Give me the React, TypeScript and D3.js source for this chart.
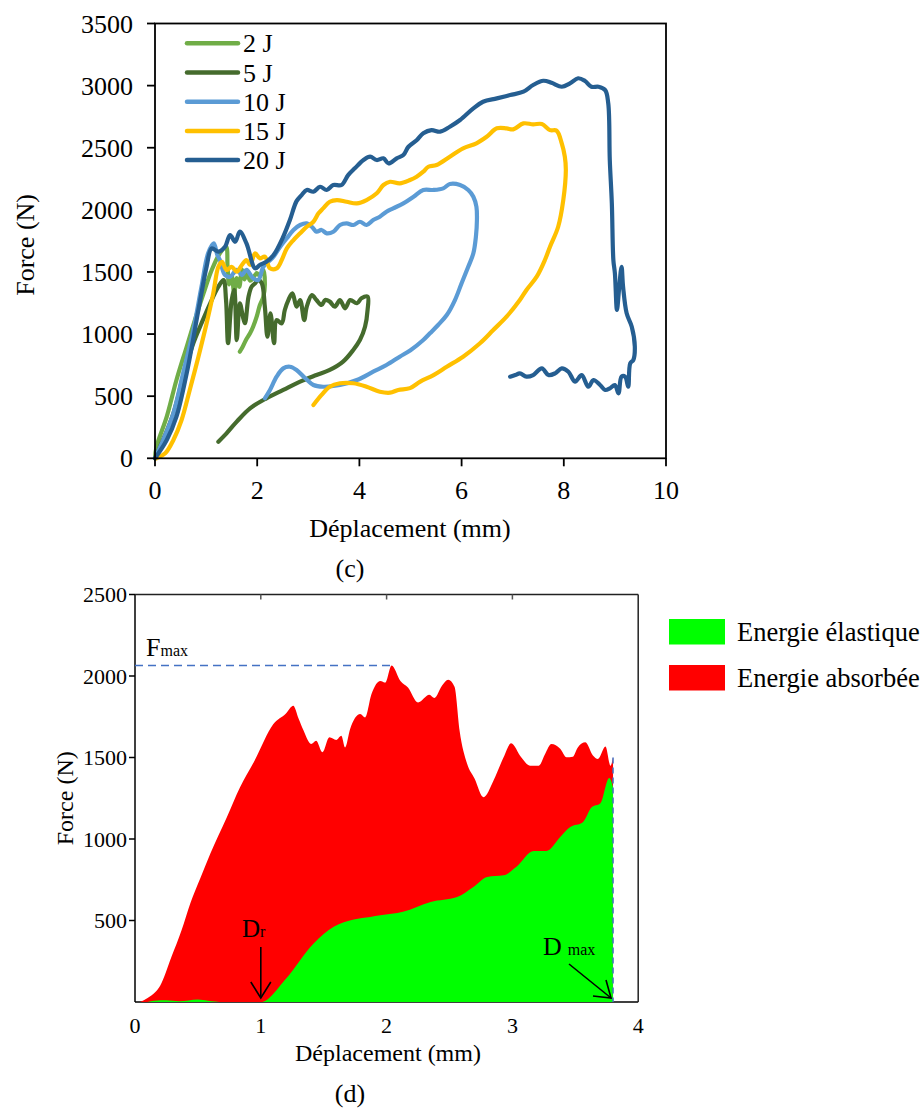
import React from "react";
import * as d3 from "d3";

// ---------- Chart (c) data: [displacement mm, force N] ----------
const seriesNames = ["2 J", "5 J", "10 J", "15 J", "20 J"];
const seriesColors = ["#70AD47", "#456B2D", "#5B9BD5", "#FFC000", "#255E91"];

const j2: [number, number][] = [
  [0, 0], [0.03, 93], [0.23, 335], [0.42, 630], [0.62, 898], [0.78, 1113], [0.95, 1328], [1.11, 1516],
  [1.27, 1650], [1.39, 1703], [1.42, 1540], [1.45, 1400], [1.5, 1470], [1.55, 1330], [1.6, 1450],
  [1.65, 1380], [1.7, 1520], [1.75, 1440], [1.8, 1490], [1.86, 1430], [1.92, 1450], [1.99, 1490],
  [2.05, 1470], [2.12, 1516], [2.15, 1400], [2.12, 1300], [2.05, 1230], [1.99, 1140], [1.92, 1059],
  [1.86, 1006], [1.78, 952], [1.7, 885], [1.66, 858],
];
const j5: [number, number][] = [
  [0, 0], [0.1, 93], [0.36, 362], [0.55, 657], [0.75, 926], [0.91, 1087], [1.08, 1248], [1.24, 1381],
  [1.34, 1435], [1.39, 1274], [1.43, 926], [1.5, 1274], [1.55, 1355], [1.6, 952], [1.66, 1248],
  [1.72, 1140], [1.76, 1087], [1.83, 1301], [1.89, 1381], [1.96, 1409], [2.02, 1435], [2.09, 1409],
  [2.15, 1220], [2.2, 979], [2.26, 1167], [2.33, 926], [2.38, 1113], [2.48, 1087], [2.54, 1194],
  [2.61, 1274], [2.69, 1328], [2.77, 1220], [2.84, 1274], [2.92, 1113], [2.97, 1220], [3.07, 1314],
  [3.16, 1274], [3.26, 1234], [3.33, 1274], [3.42, 1261], [3.52, 1220], [3.62, 1274], [3.72, 1207],
  [3.82, 1274], [3.95, 1248], [4.04, 1288], [4.16, 1301], [4.16, 1194], [4.11, 1059], [4.01, 952],
  [3.88, 872], [3.68, 778], [3.42, 711], [3.16, 670], [2.84, 617], [2.51, 550], [2.18, 483],
  [1.86, 402], [1.6, 295], [1.4, 201], [1.24, 134],
];
const j10: [number, number][] = [
  [0, 0], [0.16, 147], [0.36, 362], [0.55, 684], [0.75, 1033], [0.91, 1381], [1.04, 1650], [1.15, 1730],
  [1.22, 1636], [1.27, 1596], [1.37, 1475], [1.47, 1462], [1.6, 1516], [1.7, 1475], [1.79, 1516],
  [1.92, 1449], [2.02, 1435], [2.12, 1542], [2.22, 1582], [2.32, 1623], [2.45, 1703], [2.58, 1771],
  [2.71, 1838], [2.84, 1878], [2.97, 1891], [3.07, 1864], [3.16, 1824], [3.26, 1838], [3.36, 1811],
  [3.49, 1824], [3.62, 1878], [3.75, 1891], [3.88, 1878], [4.01, 1904], [4.14, 1878], [4.27, 1918],
  [4.4, 1945], [4.53, 1985], [4.66, 2012], [4.86, 2052], [5.06, 2106], [5.25, 2160], [5.45, 2160],
  [5.64, 2173], [5.77, 2208], [5.97, 2200], [6.13, 2160], [6.23, 2106], [6.29, 2025], [6.3, 1918],
  [6.28, 1784], [6.23, 1650], [6.13, 1542], [6.0, 1409], [5.87, 1274], [5.71, 1153], [5.54, 1073],
  [5.38, 1006], [5.25, 952], [5.0, 870], [4.79, 818], [4.53, 751], [4.27, 697], [3.95, 630],
  [3.62, 590], [3.29, 576], [3.1, 590], [2.94, 644], [2.77, 711], [2.64, 737], [2.51, 724],
  [2.38, 657], [2.25, 550], [2.15, 483],
];
const j15: [number, number][] = [
  [0.03, 0], [0.2, 40], [0.36, 147], [0.52, 308], [0.68, 550], [0.85, 818], [1.01, 1087], [1.14, 1328],
  [1.24, 1542], [1.31, 1582], [1.4, 1516], [1.5, 1542], [1.6, 1502], [1.7, 1556], [1.79, 1596],
  [1.86, 1556], [1.96, 1650], [2.05, 1610], [2.15, 1623], [2.25, 1529], [2.38, 1529], [2.48, 1596],
  [2.58, 1690], [2.71, 1757], [2.84, 1811], [2.97, 1864], [3.1, 1904], [3.2, 1972], [3.29, 2012],
  [3.42, 2065], [3.56, 2079], [3.75, 2065], [3.95, 2052], [4.14, 2079], [4.34, 2133], [4.47, 2200],
  [4.6, 2226], [4.79, 2213], [4.99, 2240], [5.12, 2267], [5.25, 2307], [5.35, 2347], [5.51, 2361],
  [5.77, 2428], [6.03, 2495], [6.29, 2535], [6.49, 2588], [6.69, 2656], [6.88, 2656], [7.01, 2648],
  [7.21, 2696], [7.4, 2688], [7.57, 2691], [7.73, 2642], [7.86, 2637], [7.96, 2535], [8.02, 2428],
  [8.04, 2321], [7.99, 2079], [7.89, 1864], [7.73, 1703], [7.63, 1596], [7.47, 1462], [7.27, 1355],
  [7.14, 1274], [6.88, 1140], [6.62, 1033], [6.36, 926], [6.03, 818], [5.71, 737], [5.45, 670],
  [5.19, 617], [4.99, 565], [4.76, 550], [4.6, 528], [4.4, 536], [4.14, 576], [3.88, 604],
  [3.62, 604], [3.42, 576], [3.26, 510], [3.1, 429],
];
const j20: [number, number][] = [
  [0, 0], [0.23, 147], [0.42, 335], [0.62, 684], [0.85, 1194], [1.01, 1542], [1.11, 1690], [1.24, 1663],
  [1.37, 1703], [1.47, 1797], [1.57, 1743], [1.66, 1824], [1.79, 1730], [1.96, 1529], [2.05, 1556],
  [2.18, 1582], [2.32, 1636], [2.51, 1784], [2.64, 1918], [2.77, 2070], [2.87, 2119], [2.97, 2160],
  [3.1, 2146], [3.23, 2186], [3.36, 2160], [3.49, 2200], [3.65, 2200], [3.78, 2280], [3.91, 2334],
  [4.08, 2401], [4.21, 2428], [4.34, 2401], [4.47, 2415], [4.57, 2374], [4.73, 2415], [4.86, 2441],
  [4.96, 2508], [5.12, 2560], [5.25, 2616], [5.41, 2642], [5.58, 2629], [5.77, 2669], [5.97, 2723],
  [6.23, 2817], [6.42, 2870], [6.69, 2897], [6.95, 2924], [7.21, 2951], [7.4, 3005], [7.6, 3039],
  [7.76, 3023], [7.96, 2991], [8.12, 3018], [8.28, 3059], [8.41, 3039], [8.54, 2991], [8.68, 2991],
  [8.81, 2964], [8.87, 2857], [8.9, 2401], [8.94, 2052], [8.97, 1596], [9.0, 1489], [9.04, 1194],
  [9.08, 1355], [9.13, 1542], [9.16, 1381], [9.23, 1167], [9.33, 1059], [9.39, 898], [9.36, 791],
  [9.3, 765], [9.26, 576], [9.2, 657], [9.13, 657], [9.07, 523], [9.0, 590], [8.9, 563], [8.81, 550],
  [8.71, 590], [8.58, 630], [8.48, 576], [8.35, 670], [8.22, 617], [8.09, 697], [7.96, 724],
  [7.83, 684], [7.7, 670], [7.57, 724], [7.4, 670], [7.27, 657], [7.14, 684], [7.05, 670], [6.95, 657],
];
const seriesData = [j2, j5, j10, j15, j20];
const cXTicks = [0, 2, 4, 6, 8, 10];
const cYTicks = [0, 500, 1000, 1500, 2000, 2500, 3000, 3500];

// ---------- Chart (d) data ----------
const totalForce: [number, number][] = [
  [0.04, 0], [0.1, 25], [0.16, 60], [0.2, 100], [0.29, 277], [0.37, 440], [0.44, 606], [0.52, 760],
  [0.6, 912], [0.73, 1134], [0.835, 1318], [0.95, 1480], [1.1, 1705], [1.2, 1770], [1.258, 1818],
  [1.3, 1740], [1.34, 1665], [1.4, 1583], [1.44, 1603], [1.49, 1532], [1.545, 1624], [1.6, 1608],
  [1.64, 1634], [1.67, 1562], [1.71, 1675], [1.79, 1767], [1.83, 1746], [1.88, 1889], [1.95, 1970],
  [1.99, 1960], [2.04, 2065], [2.11, 1970], [2.17, 1930], [2.25, 1838], [2.34, 1885], [2.38, 1865],
  [2.44, 1940], [2.49, 1977], [2.54, 1934], [2.58, 1665], [2.64, 1461], [2.7, 1369], [2.77, 1256],
  [2.85, 1359], [2.93, 1501], [2.99, 1587], [3.07, 1501], [3.14, 1450], [3.21, 1450], [3.26, 1522],
  [3.31, 1583], [3.38, 1553], [3.43, 1501], [3.48, 1505], [3.52, 1562], [3.58, 1593], [3.64, 1512],
  [3.68, 1491], [3.74, 1567], [3.78, 1450], [3.8, 1501],
];
const elasticForce: [number, number][] = [
  [0.1, 0], [0.15, 8], [0.25, 10], [0.35, 4], [0.5, 15], [0.58, 8], [0.7, 0], [1.0, 0], [1.2, 143],
  [1.42, 359], [1.58, 461], [1.74, 506], [1.87, 522], [1.95, 532], [2.13, 553], [2.35, 614],
  [2.56, 644], [2.69, 706], [2.8, 767], [2.93, 777], [3.03, 828], [3.17, 926], [3.27, 926],
  [3.38, 1012], [3.46, 1073], [3.56, 1103], [3.63, 1195], [3.7, 1220], [3.77, 1375], [3.8, 1318],
];
const dXTicks = [0, 1, 2, 3, 4];
const dYTicks = [500, 1000, 1500, 2000, 2500];
const dLegend = ["Energie élastique", "Energie absorbée"];
const dLegendColors = ["#00FF00", "#FF0000"];
const fMax = 2065;
const fMaxD = 2.04;
const dR = 1.0;
const dMax = 3.8;

const FONT = "'Liberation Serif', 'Times New Roman', serif";

export default function App() {
  // chart (c) scales
  const xc = d3.scaleLinear().domain([0, 10]).range([155, 666]);
  const yc = d3.scaleLinear().domain([0, 3500]).range([458.3, 23.5]);
  const lineC = d3
    .line<[number, number]>()
    .x((d) => xc(d[0]))
    .y((d) => yc(d[1]))
    .curve(d3.curveCatmullRom.alpha(0.5));

  // chart (d) scales
  const xd = d3.scaleLinear().domain([0, 4]).range([135, 638.2]);
  const yd = d3.scaleLinear().domain([0, 2500]).range([1002, 594.5]);
  const areaD = d3
    .area<[number, number]>()
    .x((d) => xd(d[0]))
    .y0(yd(0))
    .y1((d) => yd(d[1]))
    .curve(d3.curveMonotoneX);

  const legendY0 = 43.3;
  const legendStep = 29.2;

  return (
    <svg
      width={924}
      height={1108}
      style={{ position: "absolute", left: 0, top: 0, background: "#fff" }}
      fontFamily={FONT}
    >
      <rect x={0} y={0} width={924} height={1108} fill="#fff" />
      {/* ================= Chart (c) ================= */}
      <g>
        {seriesData.map((s, i) => (
          <path
            key={i}
            d={lineC(s) || ""}
            fill="none"
            stroke={seriesColors[i]}
            strokeWidth={4.2}
            strokeLinejoin="round"
            strokeLinecap="round"
          />
        ))}
        <rect
          x={xc(0)}
          y={yc(3500)}
          width={xc(10) - xc(0)}
          height={yc(0) - yc(3500)}
          fill="none"
          stroke="#000"
          strokeWidth={1.8}
        />
        {cYTicks.map((t) => (
          <g key={"cy" + t}>
            <line x1={xc(0) - 8} x2={xc(0)} y1={yc(t)} y2={yc(t)} stroke="#000" strokeWidth={1.8} />
            <text x={xc(0) - 22} y={yc(t)} dy="0.35em" textAnchor="end" fontSize={26}>
              {t}
            </text>
          </g>
        ))}
        {cXTicks.map((t) => (
          <g key={"cx" + t}>
            <line x1={xc(t)} x2={xc(t)} y1={yc(0)} y2={yc(0) + 8} stroke="#000" strokeWidth={1.8} />
            <text x={xc(t)} y={490} dy="0.35em" textAnchor="middle" fontSize={26}>
              {t}
            </text>
          </g>
        ))}
        <text x={410} y={528} dy="0.35em" textAnchor="middle" fontSize={26}>
          Déplacement (mm)
        </text>
        <text
          transform={`translate(25, ${(yc(0) + yc(3500)) / 2 + 4}) rotate(-90)`}
          dy="0.35em"
          textAnchor="middle"
          fontSize={26}
        >
          Force (N)
        </text>
        <text x={350} y={568} dy="0.35em" textAnchor="middle" fontSize={26}>
          (c)
        </text>
        {seriesNames.map((n, i) => (
          <g key={"lg" + i}>
            <line
              x1={187}
              x2={238}
              y1={legendY0 + i * legendStep}
              y2={legendY0 + i * legendStep}
              stroke={seriesColors[i]}
              strokeWidth={4.5}
              strokeLinecap="round"
            />
            <text x={243} y={legendY0 + i * legendStep} dy="0.35em" fontSize={26}>
              {n}
            </text>
          </g>
        ))}
      </g>

      {/* ================= Chart (d) ================= */}
      <g>
        <line x1={xd(0)} x2={xd(4)} y1={yd(0)} y2={yd(0)} stroke="#000" strokeWidth={1.5} />
        <path d={areaD(totalForce) || ""} fill={dLegendColors[1]} />
        <path d={areaD(elasticForce) || ""} fill={dLegendColors[0]} />
        {/* frame */}
        <line x1={xd(0)} x2={xd(0)} y1={yd(0)} y2={yd(2500)} stroke="#000" strokeWidth={1.5} />
        <line x1={xd(0)} x2={xd(4)} y1={yd(2500)} y2={yd(2500)} stroke="#222" strokeWidth={1.5} />
        <line x1={xd(4)} x2={xd(4)} y1={yd(0)} y2={yd(2500)} stroke="#222" strokeWidth={1.5} />
        {dXTicks.slice(1, 4).map((t) => (
          <line key={"dtt" + t} x1={xd(t)} x2={xd(t)} y1={yd(2500)} y2={yd(2500) + 5} stroke="#555" strokeWidth={1.5} />
        ))}
        {dYTicks.map((t) => (
          <g key={"dy" + t}>
            <line x1={xd(0) - 6} x2={xd(0)} y1={yd(t)} y2={yd(t)} stroke="#000" strokeWidth={1.5} />
            <text x={xd(0) - 8} y={yd(t)} dy="0.35em" textAnchor="end" fontSize={22}>
              {t}
            </text>
          </g>
        ))}
        {dXTicks.map((t) => (
          <text key={"dx" + t} x={xd(t)} y={1025} dy="0.35em" textAnchor="middle" fontSize={22}>
            {t}
          </text>
        ))}
        <text x={388} y={1053} dy="0.35em" textAnchor="middle" fontSize={24}>
          Déplacement (mm)
        </text>
        <text
          transform={`translate(65, ${(yd(0) + yd(2500)) / 2}) rotate(-90)`}
          dy="0.35em"
          textAnchor="middle"
          fontSize={24}
        >
          Force (N)
        </text>
        <text x={350} y={1093} dy="0.35em" textAnchor="middle" fontSize={26}>
          (d)
        </text>

        {/* Fmax dashed line */}
        <line
          x1={xd(0)}
          x2={xd(fMaxD)}
          y1={yd(fMax)}
          y2={yd(fMax)}
          stroke="#4472C4"
          strokeWidth={1.5}
          strokeDasharray="8,5"
        />
        <text x={146} y={656} fontSize={26}>
          F<tspan fontSize={16}>max</tspan>
        </text>
        {/* Dmax vertical dashed line */}
        <line
          x1={xd(dMax)}
          x2={xd(dMax)}
          y1={yd(1500)}
          y2={yd(0)}
          stroke="#4472C4"
          strokeWidth={1.5}
          strokeDasharray="6,4"
        />
        {/* Dr annotation */}
        <text x={242} y={937} fontSize={25}>
          D<tspan fontSize={16}>r</tspan>
        </text>
        <line x1={xd(dR)} x2={xd(dR)} y1={947} y2={998} stroke="#000" strokeWidth={1.6} />
        <polyline
          points={`${xd(dR) - 10},982 ${xd(dR)},998 ${xd(dR) + 10},982`}
          fill="none"
          stroke="#000"
          strokeWidth={1.6}
        />
        {/* Dmax annotation */}
        <text x={543} y={955} fontSize={26}>
          D
          <tspan dx={6} fontSize={16}>
            max
          </tspan>
        </text>
        <line x1={569} x2={xd(dMax) - 2} y1={964} y2={998} stroke="#000" strokeWidth={1.6} />
        <polyline
          points={`593,996 ${xd(dMax) - 2},998 606,980`}
          fill="none"
          stroke="#000"
          strokeWidth={1.6}
        />
        {/* legend */}
        {dLegend.map((n, i) => (
          <g key={"dl" + i}>
            <rect x={669} y={619 + i * 46} width={56} height={25.5} fill={dLegendColors[i]} />
            <text x={737} y={632 + i * 46} dy="0.35em" fontSize={26.5}>
              {n}
            </text>
          </g>
        ))}
      </g>
    </svg>
  );
}
